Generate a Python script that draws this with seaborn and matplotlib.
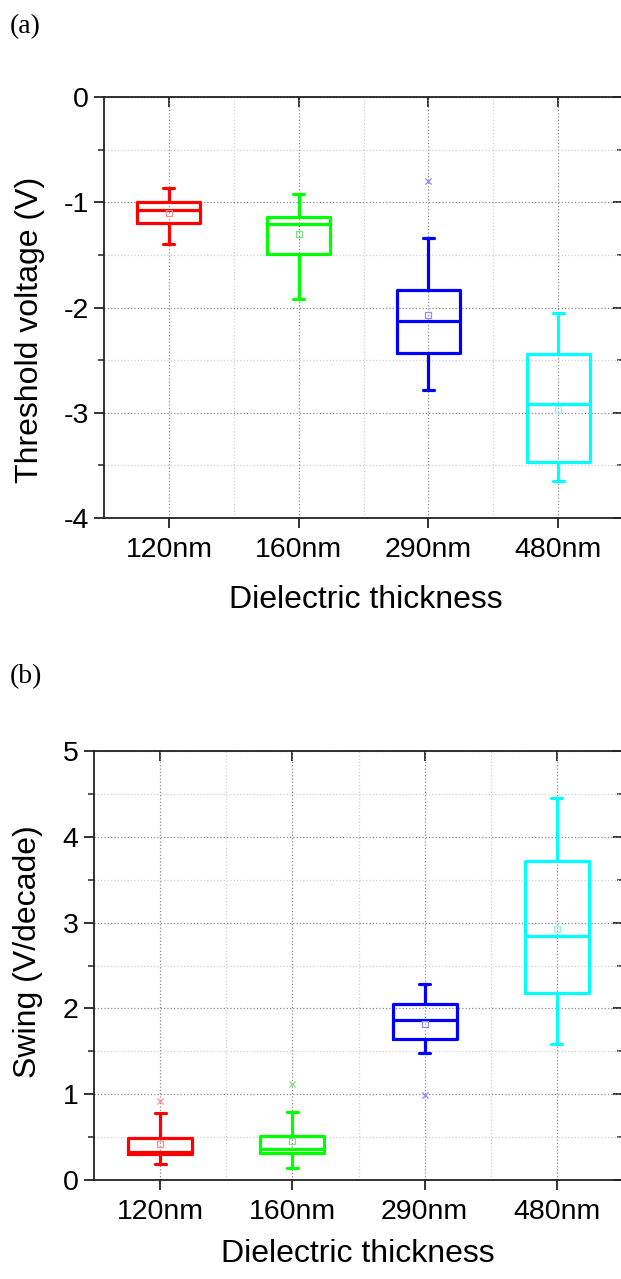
import numpy as np
import pandas as pd
import matplotlib
matplotlib.use("Agg")
import matplotlib.pyplot as plt
from matplotlib.ticker import MultipleLocator, FixedLocator
import seaborn as sns

# ---------------- data ----------------
categories = ["120nm", "160nm", "290nm", "480nm"]
box_colors = ["#ff0000", "#00ff00", "#0000ff", "#00ffff"]
pale_colors = ["#ff8c8c", "#7fe07f", "#8c8cff", "#8ff5f5"]

# (a) Threshold voltage (V): min, Q1, median, Q3, max, mean
vth_min = [-1.40, -1.92, -2.78, -3.65]
vth_q1 = [-1.20, -1.49, -2.43, -3.47]
vth_med = [-1.07, -1.21, -2.13, -2.92]
vth_q3 = [-1.00, -1.14, -1.83, -2.44]
vth_max = [-0.86, -0.92, -1.34, -2.05]
vth_mean = [-1.10, -1.30, -2.07, -2.97]
vth_out_cat = ["290nm"]
vth_out_val = [-0.80]

# (b) Swing (V/decade)
sw_min = [0.19, 0.14, 1.48, 1.58]
sw_q1 = [0.30, 0.31, 1.64, 2.18]
sw_med = [0.33, 0.36, 1.86, 2.84]
sw_q3 = [0.49, 0.51, 2.05, 3.72]
sw_max = [0.78, 0.79, 2.28, 4.45]
sw_mean = [0.42, 0.45, 1.82, 2.93]
sw_out_cat = ["120nm", "160nm", "290nm"]
sw_out_val = [0.92, 1.12, 0.99]

xlabel = "Dielectric thickness"
ylabel_a = "Threshold voltage (V)"
ylabel_b = "Swing (V/decade)"
yticks_a = [0, -1, -2, -3, -4]
yticks_b = [0, 1, 2, 3, 4, 5]


def five_number_frame(mins, q1s, meds, q3s, maxs):
    rows = []
    for c, a, b, m, d, e in zip(categories, mins, q1s, meds, q3s, maxs):
        for v in (a, b, m, d, e):
            rows.append({"thickness": c, "value": v})
    return pd.DataFrame(rows)


sns.set_theme(style="ticks")
plt.rcParams["font.family"] = ["Liberation Sans", "DejaVu Sans"]
plt.rcParams["axes.unicode_minus"] = False
plt.rcParams["text.color"] = "black"
plt.rcParams["xtick.labelcolor"] = "black"
plt.rcParams["ytick.labelcolor"] = "black"

W, H = 621, 1279
fig = plt.figure(figsize=(W / 100, H / 100), dpi=100)
fig.patch.set_facecolor("white")


def make_panel(rect, df, means, out_cat, out_val, ylim, yticks):
    ax = fig.add_axes(rect)
    ax.set_facecolor("white")
    ax.set_axisbelow(True)
    sns.boxplot(data=df, x="thickness", y="value", hue="thickness",
                order=categories, hue_order=categories,
                palette=box_colors, fill=False, whis=(0, 100),
                width=0.485, linewidth=2.3, capwidths=0.085,
                legend=False, ax=ax)
    for c, m, pc in zip(categories, means, pale_colors):
        sns.scatterplot(x=[c], y=[m], marker="s", s=20,
                        facecolor="none", edgecolor=pc,
                        linewidth=0.9, ax=ax, zorder=5)
    for c, v in zip(out_cat, out_val):
        pc = pale_colors[categories.index(c)]
        sns.scatterplot(x=[c], y=[v], marker="x", s=20, color=pc,
                        linewidth=0.9, ax=ax, zorder=5)
    ax.set_xlim(-0.5, 3.5)
    ax.set_ylim(*ylim)
    ax.set_yticks(yticks)
    ax.yaxis.set_minor_locator(MultipleLocator(0.5))
    ax.xaxis.set_minor_locator(FixedLocator([0.5, 1.5, 2.5]))
    ax.set_xticks(range(len(categories)))
    ax.set_xticklabels(categories)
    ax.set_xlabel("")
    ax.set_ylabel("")
    ax.grid(which="major", linestyle=":", color="#8a8a8a", linewidth=0.9)
    ax.grid(which="minor", linestyle=":", color="#cfcfcf", linewidth=0.9)
    for sp in ax.spines.values():
        sp.set_visible(True)
        sp.set_linewidth(1.3)
        sp.set_color("#222222")
    ax.tick_params(axis="x", which="major", direction="out", length=7,
                   width=1.3, labelsize=20.5, pad=7, color="#222222",
                   labelcolor="black")
    ax.tick_params(axis="x", which="minor", length=0)
    ax.tick_params(axis="y", which="major", direction="out", length=7,
                   width=1.3, labelsize=20.5, pad=4, color="#222222",
                   labelcolor="black")
    ax.tick_params(axis="y", which="minor", direction="out", length=4,
                   width=1.1, color="#222222")
    # top ticks (inward) and right ticks (inward)
    top = ax.secondary_xaxis("top")
    top.set_xticks(range(len(categories)))
    top.set_xticklabels([])
    top.tick_params(direction="in", length=7, width=1.3, color="#222222")
    top.xaxis.set_minor_locator(FixedLocator([]))
    right = ax.secondary_yaxis("right")
    right.set_yticks(yticks)
    right.set_yticklabels([])
    right.yaxis.set_minor_locator(MultipleLocator(0.5))
    right.tick_params(which="major", direction="in", length=7, width=1.3, color="#222222")
    right.tick_params(which="minor", direction="in", length=4, width=1.1, color="#222222")
    for sp in list(top.spines.values()) + list(right.spines.values()):
        sp.set_visible(False)
    return ax


df_a = five_number_frame(vth_min, vth_q1, vth_med, vth_q3, vth_max)
df_b = five_number_frame(sw_min, sw_q1, sw_med, sw_q3, sw_max)

ax_a = make_panel([104 / W, 1 - 518 / H, 519 / W, 421 / H], df_a, vth_mean,
                  vth_out_cat, vth_out_val, (-4, 0), yticks_a)
ax_b = make_panel([94 / W, 1 - 1180 / H, 529 / W, 429 / H], df_b, sw_mean,
                  sw_out_cat, sw_out_val, (0, 5), yticks_b)

# axis titles
fig.text(366 / W, 1 - 608 / H, xlabel, ha="center", va="baseline", fontsize=23, color="black")
fig.text(358 / W, 1 - 1262 / H, xlabel, ha="center", va="baseline", fontsize=23, color="black")
fig.text(30 / W, 1 - 330 / H, ylabel_a, rotation=90, ha="center", va="center", fontsize=23, color="black")
fig.text(28 / W, 1 - 952 / H, ylabel_b, rotation=90, ha="center", va="center", fontsize=23, color="black")

# panel letters
fig.text(10 / W, 1 - 14 / H, "(a)", ha="left", va="top", fontsize=20, color="black",
         family=["Liberation Serif", "DejaVu Serif"])
fig.text(10 / W, 1 - 664 / H, "(b)", ha="left", va="top", fontsize=20, color="black",
         family=["Liberation Serif", "DejaVu Serif"])

fig.savefig("out.png", dpi=100, facecolor="white")
